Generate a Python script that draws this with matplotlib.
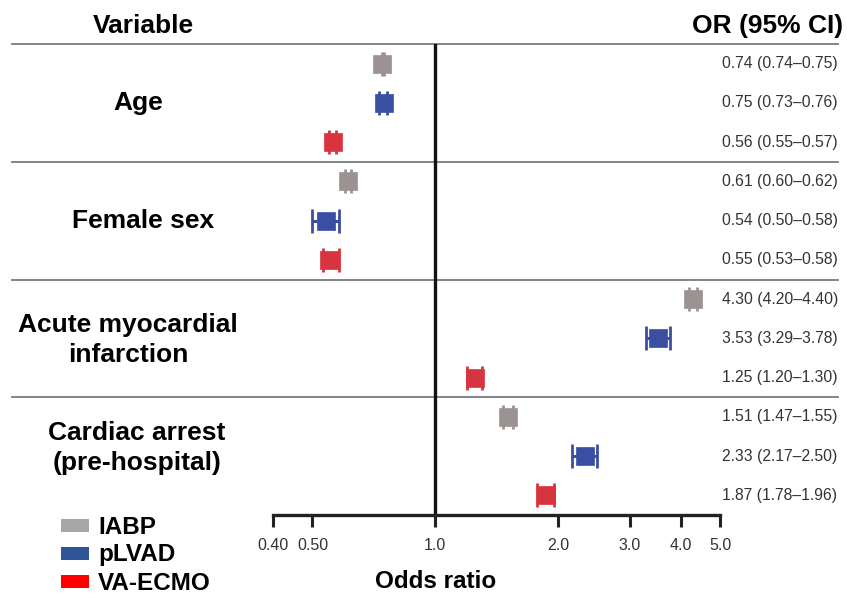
import matplotlib.pyplot as plt
import matplotlib.transforms as mtransforms
from matplotlib.patches import Rectangle

plt.rcParams['font.family'] = ['Liberation Sans', 'DejaVu Sans']

# data
groups = ["Age", "Female sex", "Acute myocardial\ninfarction", "Cardiac arrest\n(pre-hospital)"]
devices = ["IABP", "pLVAD", "VA-ECMO"]
or_vals = [0.74, 0.75, 0.56, 0.61, 0.54, 0.55, 4.30, 3.53, 1.25, 1.51, 2.33, 1.87]
ci_lo = [0.74, 0.73, 0.55, 0.60, 0.50, 0.53, 4.20, 3.29, 1.20, 1.47, 2.17, 1.78]
ci_hi = [0.75, 0.76, 0.57, 0.62, 0.58, 0.58, 4.40, 3.78, 1.30, 1.55, 2.50, 1.96]
xticks = [0.4, 0.5, 1.0, 2.0, 3.0, 4.0, 5.0]
xticklabels = ["0.40", "0.50", "1.0", "2.0", "3.0", "4.0", "5.0"]

marker_colors = ['#9b9391', '#3b4fa2', '#d8343f']
legend_colors = ['#a6a6a6', '#2f5597', '#ff0000']

W, H = 847, 594
fig = plt.figure(figsize=(W / 100, H / 100), dpi=100)
# axes: x 273..720 px, y 44..515 px
ax = fig.add_axes([273 / W, 1 - 515 / H, 447 / W, 471 / H])
ax.set_xscale('log')
ax.set_xlim(0.4, 5.0)
ax.set_ylim(11.5, -0.5)

for i, (v, lo, hi) in enumerate(zip(or_vals, ci_lo, ci_hi)):
    c = marker_colors[i % 3]
    ax.errorbar(v, i, xerr=[[v - lo], [hi - v]], fmt='none', ecolor=c,
                elinewidth=2.2, capsize=8.3, capthick=2.0, zorder=3)
    ax.plot(v, i, 's', color=c, ms=13.3, mec=c, mew=0.5, zorder=4)

ax.axvline(1.0, color='#111111', lw=2.4, zorder=2)

# separators
for y in [-0.5, 2.5, 5.5, 8.5]:
    ax.axhline(y, xmin=(12 - 273) / 447, xmax=(838 - 273) / 447, color='#7a7a7a',
               lw=1.3, clip_on=False, zorder=1)

for s in ['top', 'left', 'right']:
    ax.spines[s].set_visible(False)
ax.spines['bottom'].set_linewidth(2.4)
ax.spines['bottom'].set_color('#222222')
ax.set_yticks([])
ax.set_xticks(xticks)
ax.set_xticklabels(xticklabels)
ax.minorticks_off()
ax.tick_params(axis='x', length=8.6, width=2.2, color='#222222', pad=8,
               labelsize=11.5, labelcolor='#333333')

# OR text column
tr = mtransforms.blended_transform_factory(fig.transFigure, ax.transData)
for i, (v, lo, hi) in enumerate(zip(or_vals, ci_lo, ci_hi)):
    ax.text(722 / W, i, f"{v:.2f} ({lo:.2f}\u2013{hi:.2f})", transform=tr,
            ha='left', va='center', fontsize=11.3, color='#333333')

# group labels
group_x = [138, 143, 128, 137]
group_y = [1, 4, 7.05, 9.8]
for g, gx, gy in zip(groups, group_x, group_y):
    ax.text(gx / W, gy, g, transform=tr, ha='center', va='center',
            fontsize=19, fontweight='bold', linespacing=1.3)

# headers
fig.text(143 / W, 1 - 33 / H, "Variable", ha='center', va='baseline',
         fontsize=19, fontweight='bold')
fig.text(843 / W, 1 - 33 / H, "OR (95% CI)", ha='right', va='baseline',
         fontsize=19, fontweight='bold')
fig.text(436 / W, 1 - 588 / H, "Odds ratio", ha='center', va='baseline',
         fontsize=17.5, fontweight='bold')

# legend
leg_y = [525, 553, 581]
for name, c, y in zip(devices, legend_colors, leg_y):
    fig.add_artist(Rectangle((61 / W, 1 - (y + 6.5) / H), 28 / W, 13 / H,
                             transform=fig.transFigure, facecolor=c, edgecolor='none'))
    fig.text(98 / W, 1 - (y + 8.5) / H, name, ha='left', va='baseline',
             fontsize=17.5, fontweight='bold')

fig.savefig('out.png', dpi=100)
